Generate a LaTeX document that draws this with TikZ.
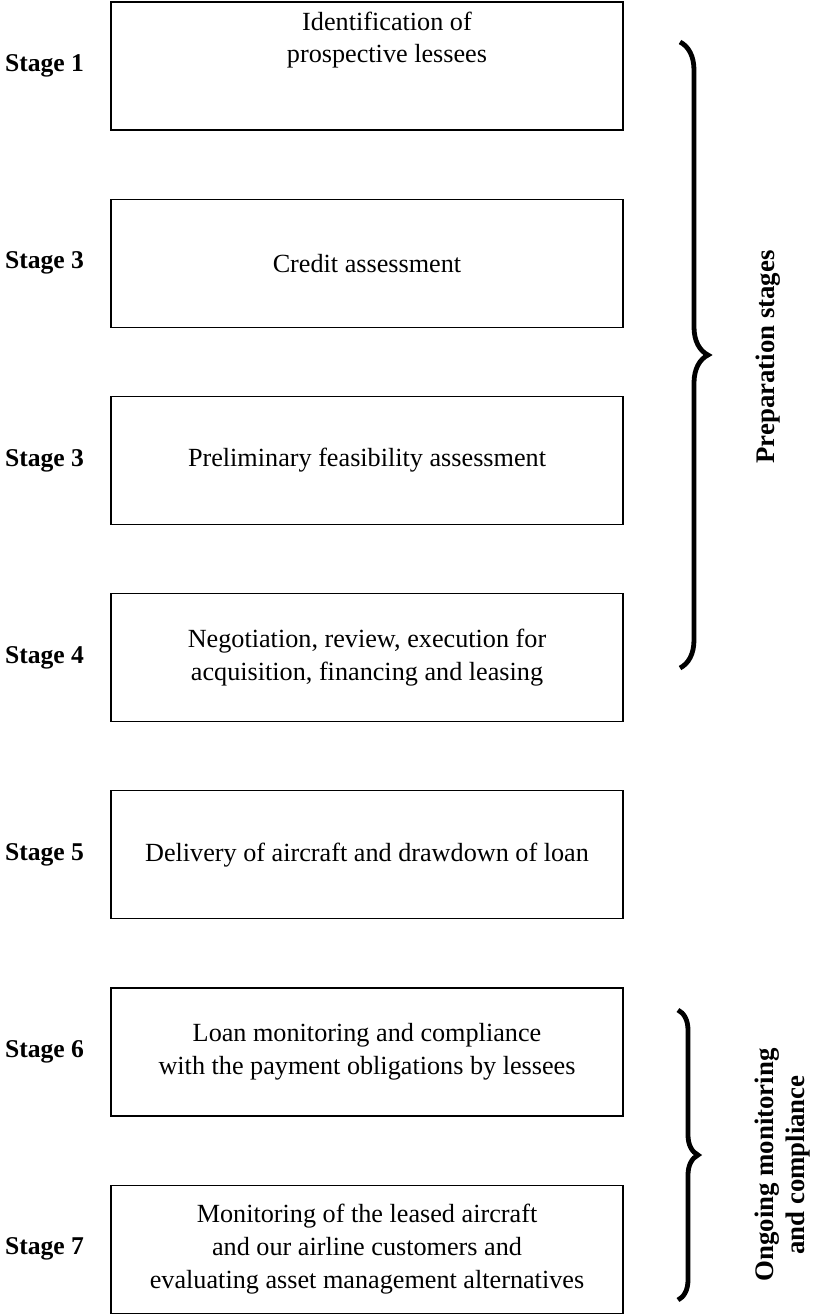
\documentclass[tikz,border=0pt]{standalone}
\usepackage{fontspec}
\setmainfont{Liberation Serif}
\usetikzlibrary{positioning,decorations.pathreplacing}

\begin{document}
\begin{tikzpicture}[
    x=0.5pt, y=-0.5pt,
    node distance=34pt,
    box/.style={rectangle, draw, line width=0.6pt, minimum width=256pt, minimum height=64pt, inner sep=0pt, align=center, font=\fontsize{13.1}{16.4}\selectfont},
    boxtext/.style={align=center, font=\fontsize{13.1}{16.4}\selectfont},
    stagelabel/.style={inner sep=0pt, font=\fontsize{12.8}{15}\selectfont\bfseries},
    bracket/.style={decorate, decoration={brace, amplitude=#1}, line width=2.4pt},
    sidelabel/.style={rotate=90, align=center, font=\fontsize{13.4}{15.5}\selectfont\bfseries}
]
    \useasboundingbox (0,0) rectangle (813,1314);

    % process boxes
    \node[box] (b1) at (367,66) {};
    \node[boxtext] (t1) at ([xshift=10pt,yshift=13pt]b1.center) {Identification of\\prospective lessees};
    \node[box, below=of b1] (b2) {Credit assessment};
    \node[box, below=of b2] (b3) {Preliminary feasibility assessment};
    \node[box, below=of b3] (b4) {Negotiation, review, execution for\\acquisition, financing and leasing};
    \node[box, below=of b4] (b5) {Delivery of aircraft and drawdown of loan};
    \node[box, below=of b5] (b6) {Loan monitoring and compliance\\with the payment obligations by lessees};
    \node[box, below=of b6] (b7) {Monitoring of the leased aircraft\\and our airline customers and\\evaluating asset management alternatives};

    % stage labels
    \node[stagelabel, left=13pt of b1] (s1) {Stage 1};
    \node[stagelabel, left=13pt of b2] (s2) {Stage 3};
    \node[stagelabel, left=13pt of b3] (s3) {Stage 3};
    \node[stagelabel, left=13pt of b4] (s4) {Stage 4};
    \node[stagelabel, left=13pt of b5] (s5) {Stage 5};
    \node[stagelabel, left=13pt of b6] (s6) {Stage 6};
    \node[stagelabel, left=13pt of b7] (s7) {Stage 7};

    % braces
    \coordinate (preptop) at (680,42);
    \coordinate (prepbot) at (680,668);
    \coordinate (ongotop) at (678,1010);
    \coordinate (ongobot) at (678,1300);
    \draw[bracket=14pt] (preptop) -- (prepbot);
    \draw[bracket=10pt] (ongotop) -- (ongobot);

    \node[sidelabel] (prep) at (768,357) {Preparation stages};
    \node[sidelabel] (ongo) at (783,1165) {Ongoing monitoring\\and compliance};
\end{tikzpicture}
\end{document}
